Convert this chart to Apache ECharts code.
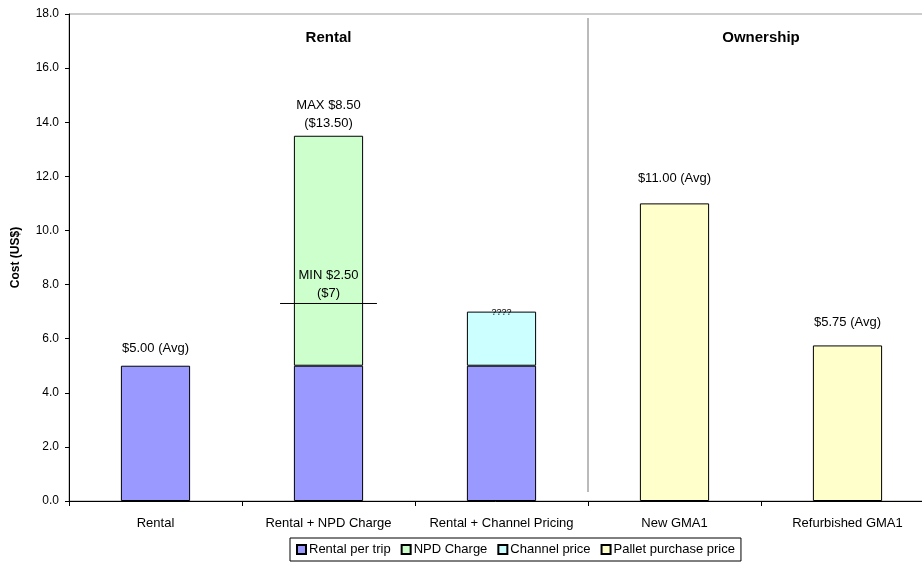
<!DOCTYPE html>
<html>
<head>
<meta charset="utf-8">
<script src="https://cdn.jsdelivr.net/npm/echarts@6/dist/echarts.min.js"></script>
<style>
  html, body { margin: 0; padding: 0; background: #fff; }
  #chart { width: 922px; height: 567px; }
</style>
</head>
<body>
<div id="chart"></div>
<script>
// Pallet cost comparison: rental options vs. ownership
const categories = ['Rental', 'Rental + NPD Charge', 'Rental + Channel Pricing', 'New GMA1', 'Refurbished GMA1'];
const rentalPerTrip = [5, 5, 5, null, null];
const npdCharge = [null, 8.5, null, null, null];
const channelPrice = [null, null, 2, null, null];
const palletPurchase = [null, null, null, 11, 5.75];
const yTicks = { min: 0, max: 18, interval: 2 };
const sectionTitles = ['Rental', 'Ownership'];
const minMarkerLevel = 7.3;

const FONT = '"Liberation Sans", Arial, sans-serif';
const lbl = (text, dist, extra) => Object.assign({
  show: true, position: 'top', distance: dist, formatter: text,
  color: '#000', fontFamily: FONT, fontSize: 13, lineHeight: 18
}, extra || {});

const chart = echarts.init(document.getElementById('chart'), null, { renderer: 'canvas' });

const barStyle = c => ({ color: c, borderColor: '#000', borderWidth: 1 });

chart.setOption({
  animation: false,
  backgroundColor: '#fff',
  textStyle: { fontFamily: FONT },
  grid: {
    left: 69, top: 14, width: 865, height: 487,
    outerBoundsMode: 'none',
    show: true, borderColor: '#999', borderWidth: 1
  },
  legend: {
    left: 290, top: 538,
    padding: [5, 6, 5, 6],
    borderColor: '#000', borderWidth: 1,
    itemWidth: 9, itemHeight: 9, itemGap: 10,
    icon: 'rect',
    textStyle: { fontFamily: FONT, fontSize: 13, color: '#000', padding: [0, 0, 0, -2] },
    data: ['Rental per trip', 'NPD Charge', 'Channel price', 'Pallet purchase price']
  },
  xAxis: {
    type: 'category',
    data: categories,
    boundaryGap: true,
    axisLine: { lineStyle: { color: '#000', width: 1 } },
    axisTick: { show: true, interval: 0, length: 5, lineStyle: { color: '#000' } },
    axisLabel: { interval: 0, color: '#000', fontFamily: FONT, fontSize: 13, margin: 16 }
  },
  yAxis: {
    type: 'value',
    min: yTicks.min, max: yTicks.max, interval: yTicks.interval,
    name: 'Cost (US$)',
    nameLocation: 'middle',
    nameGap: 47,
    nameTextStyle: { color: '#000', fontFamily: FONT, fontSize: 12, fontWeight: 'bold' },
    axisLine: { show: true, lineStyle: { color: '#000', width: 1 } },
    axisTick: { show: true, length: 4, lineStyle: { color: '#000' } },
    axisLabel: { color: '#000', fontFamily: FONT, fontSize: 12, margin: 10, formatter: v => v.toFixed(1) },
    splitLine: { show: false }
  },
  series: [
    {
      name: 'Rental per trip', type: 'bar', stack: 'cost', barWidth: '40%',
      itemStyle: barStyle('#9999FF'),
      data: rentalPerTrip.map((v, i) => i === 0 ? { value: v, label: lbl('$5.00 (Avg)', 8) } : v)
    },
    {
      name: 'NPD Charge', type: 'bar', stack: 'cost', barWidth: '40%',
      itemStyle: barStyle('#CCFFCC'),
      data: npdCharge.map((v, i) => i === 1 ? { value: v, label: lbl('MAX $8.50\n($13.50)', 3) } : v)
    },
    {
      name: 'Channel price', type: 'bar', stack: 'cost', barWidth: '40%',
      itemStyle: barStyle('#CCFFFF'),
      data: channelPrice.map((v, i) => i === 2 ? { value: v, label: lbl('????', -6, { fontSize: 9, lineHeight: 10 }) } : v)
    },
    {
      name: 'Pallet purchase price', type: 'bar', stack: 'cost', barWidth: '40%',
      itemStyle: barStyle('#FFFFCC'),
      data: palletPurchase.map((v, i) => {
        if (i === 3) return { value: v, label: lbl('$11.00 (Avg)', 16) };
        if (i === 4) return { value: v, label: lbl('$5.75 (Avg)', 14) };
        return v;
      })
    },
    {
      // Section divider, section headings and the minimum NPD marker
      type: 'custom',
      silent: true,
      z: 10,
      data: [0],
      renderItem: function (params, api) {
        const band = api.size([1, 0])[0];
        const x0 = api.coord([0, 0])[0] - band / 2;
        const xDiv = api.coord([2, 0])[0] + band / 2;
        const xEnd = api.coord([4, 0])[0] + band / 2;
        const yTop = api.coord([0, yTicks.max])[1];
        const yBot = api.coord([0, 0])[1];
        const minPt = api.coord([1, minMarkerLevel]);
        const half = band * 0.28;
        const headStyle = { fill: '#000', font: 'bold 15px ' + FONT, textAlign: 'center', textVerticalAlign: 'middle' };
        return {
          type: 'group',
          children: [
            { type: 'line', shape: { x1: xDiv, y1: yTop + 4, x2: xDiv, y2: yBot - 9 }, style: { stroke: '#777', lineWidth: 1 } },
            { type: 'text', style: Object.assign({ text: sectionTitles[0], x: (x0 + xDiv) / 2, y: yTop + 24 }, headStyle) },
            { type: 'text', style: Object.assign({ text: sectionTitles[1], x: (xDiv + xEnd) / 2, y: yTop + 24 }, headStyle) },
            { type: 'line', shape: { x1: minPt[0] - half, y1: minPt[1], x2: minPt[0] + half, y2: minPt[1] }, style: { stroke: '#000', lineWidth: 1 } },
            { type: 'text', style: { text: 'MIN $2.50\n($7)', x: minPt[0], y: minPt[1] - 1, fill: '#000', font: '13px ' + FONT, lineHeight: 18, textAlign: 'center', textVerticalAlign: 'bottom' } }
          ]
        };
      }
    }
  ]
});
</script>
</body>
</html>
